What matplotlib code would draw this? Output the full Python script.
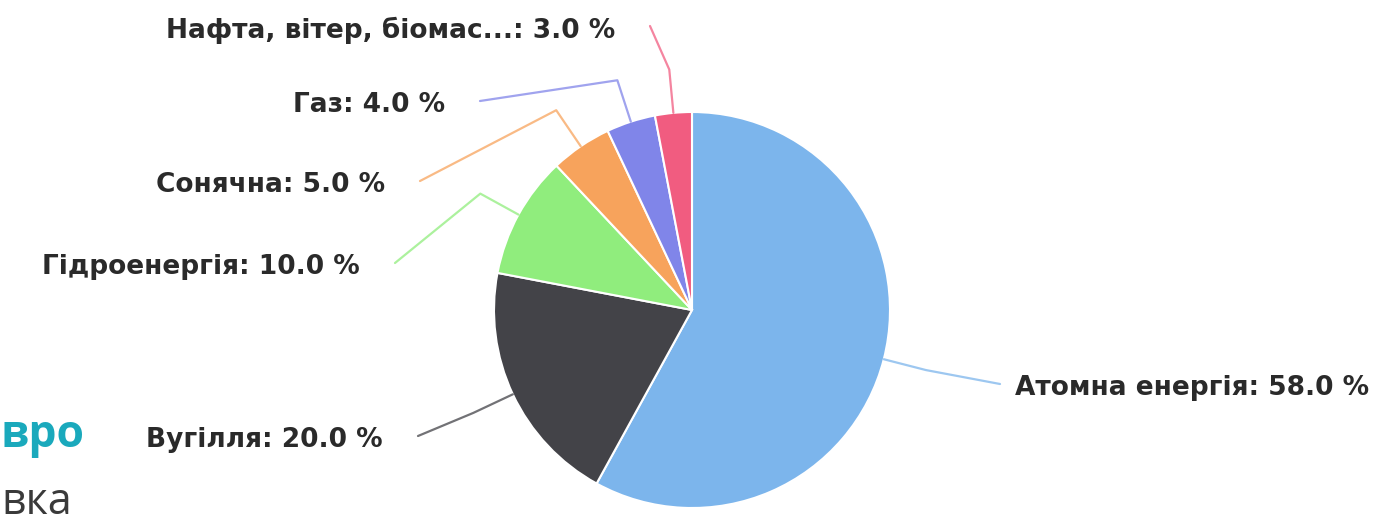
import matplotlib.pyplot as plt
import numpy as np

# energy mix shares, %
sources = ["Атомна енергія", "Вугілля", "Гідроенергія", "Сонячна", "Газ",
           "Нафта, вітер, біомас..."]
shares = [58.0, 20.0, 10.0, 5.0, 4.0, 3.0]
colors = ["#7cb5ec", "#434348", "#90ed7d", "#f7a35c", "#8085e9", "#f15c80"]

W, H = 1389, 526
fig = plt.figure(figsize=(W / 100, H / 100), dpi=100)
ax = fig.add_axes([0, 0, 1, 1])

cx, cy, r = 692, H - 310, 198
wedges, _ = ax.pie(shares, colors=colors, startangle=90, counterclock=False,
                   center=(cx, cy), radius=r,
                   wedgeprops=dict(edgecolor="white", linewidth=1.5))
ax.set_xlim(0, W)
ax.set_ylim(0, H)
ax.set_aspect("equal")
ax.axis("off")

# label placement in pixels from top-left: (edge x, centre y, alignment)
label_pos = [(1015, 388, "left"), (383, 440, "right"), (360, 267, "right"),
             (385, 185, "right"), (445, 105, "right"), (615, 30, "right")]

for w, name, val, col, (lx, ly, ha) in zip(wedges, sources, shares, colors, label_pos):
    mid = np.deg2rad((w.theta1 + w.theta2) / 2)
    c, s = np.cos(mid), np.sin(mid)
    p0 = (cx + r * c, cy + r * s)
    p1 = (cx + 1.22 * r * c, cy + 1.22 * r * s)
    ex = lx - 15 if ha == "left" else lx + 35
    p2 = (ex, H - ly + 4)
    ax.plot([p0[0], p1[0], p2[0]], [p0[1], p1[1], p2[1]], color=col,
            lw=1.6, alpha=0.75, solid_capstyle="round", zorder=1)
    ax.text(lx, H - ly, f"{name}: {val:.1f} %", ha=ha, va="center",
            fontsize=19, fontweight="bold", color="#2a2a2a",
            family="DejaVu Sans")

# fragments of the surrounding page
fig.text(1 / W, 1 - 447 / H, "вро", fontsize=32, fontweight="bold",
         color="#1aa9bc", family="Open Sans", ha="left", va="baseline")
fig.text(1 / W, 1 / H, "вка", fontsize=31, color="#3a3a3a",
         family="Open Sans", ha="left", va="bottom")

fig.savefig("out.png", dpi=100, facecolor="white")
